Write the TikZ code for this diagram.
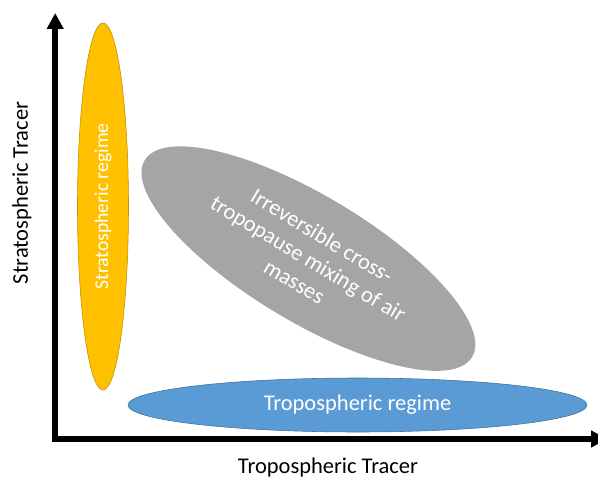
\documentclass[tikz,border=0pt]{standalone}
\usepackage{fontspec}
\setmainfont{Carlito}
\usetikzlibrary{shapes.geometric,arrows.meta}
\definecolor{stratyellow}{HTML}{FFC000}
\definecolor{stratedge}{HTML}{BF9000}
\definecolor{mixgray}{HTML}{A5A5A5}
\definecolor{tropblue}{HTML}{5B9BD5}
\definecolor{tropedge}{HTML}{41719C}
\begin{document}
\begin{tikzpicture}[
    regime/.style={ellipse, inner sep=0pt, text=white, font=\fontsize{16}{19}\selectfont, align=center},
    axislabel/.style={font=\fontsize{16}{19}\selectfont}
  ]
  \useasboundingbox (0,0) rectangle (14.95,12.025);
  % axes
  \coordinate (O) at (1.38,1.05);
  \coordinate (ytop) at (1.38,11.7);
  \coordinate (xend) at (15.18,1.05);
  \draw[line width=4pt, line join=miter, {Triangle[length=0.4cm,width=0.4cm]}-{Triangle[length=0.4cm,width=0.4cm]}] (ytop) |- (xend);
  \node[axislabel, rotate=90] (ylab) at (0.55,7.2) {Stratospheric Tracer};
  \node[axislabel] (xlab) at (8.2,0.33) {Tropospheric Tracer};
  % regimes
  \node[regime, fill=stratyellow, draw=stratedge, thin, rotate=90, font=\fontsize{14}{17}\selectfont,
        minimum width=9.175cm, minimum height=1.275cm] (strat) at (2.575,6.8625) {Stratospheric regime};
  \node[regime, fill=mixgray, rotate=-31,
        minimum width=9.55cm, minimum height=3.15cm] (mix) at (7.71,5.56)
        {Irreversible cross-\\tropopause mixing of air\\masses};
  \node[regime, fill=tropblue, draw=tropedge, thin,
        minimum width=11.475cm, minimum height=1.35cm] (trop) at (8.9375,1.9) {Tropospheric regime};
\end{tikzpicture}
\end{document}
